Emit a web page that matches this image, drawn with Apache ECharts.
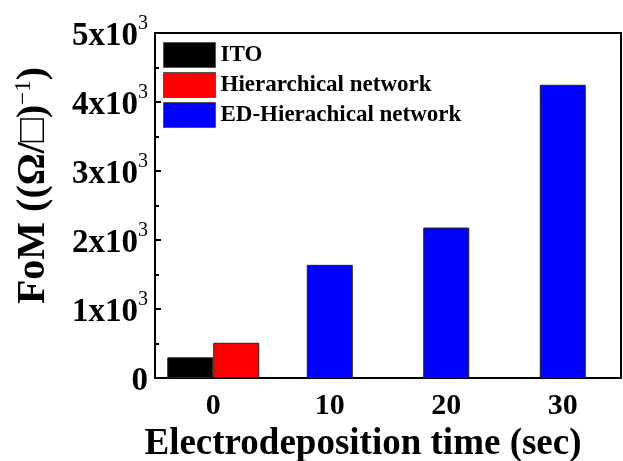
<!DOCTYPE html>
<html><head><meta charset="utf-8">
<script src="https://cdn.jsdelivr.net/npm/echarts@6/dist/echarts.min.js"></script>
<style>html,body{margin:0;padding:0;background:#fff}#c{width:623px;height:461px}</style>
</head><body><div id="c"></div>
<script>
const categories = ['0', '10', '20', '30'];
const itoValues = [300, '-', '-', '-'];
const hierValues = [510, '-', '-', '-'];
const edValues = ['-', 1640, 2180, 4250];
const seriesNames = ['ITO', 'Hierarchical network', 'ED-Hierachical network'];
const xTitle = 'Electrodeposition time (sec)';

const FONT = '"Liberation Serif", "Times New Roman", serif';
const chart = echarts.init(document.getElementById('c'));
chart.setOption({
  animation: false,
  backgroundColor: '#fff',
  grid: { left: 155, right: 2, top: 33, bottom: 83, containLabel: false, outerBoundsMode: 'none',
    show: true, borderColor: '#000', borderWidth: 2, backgroundColor: 'transparent' },
  legend: {
    orient: 'vertical', left: 163, top: 42, padding: 0, itemWidth: 52, itemHeight: 25, itemGap: 4, icon: 'rect',
    itemStyle: { borderColor: '#555', borderWidth: 1 },
    textStyle: { fontFamily: FONT, fontWeight: 'bold', fontSize: 23, color: '#000' },
    data: seriesNames
  },
  xAxis: [
    {
      type: 'category', data: categories, position: 'bottom',
      axisLine: { lineStyle: { color: '#000', width: 2 } },
      axisTick: { inside: true, alignWithLabel: true, length: 6, lineStyle: { color: '#000', width: 2 } },
      axisLabel: { fontFamily: FONT, fontWeight: 'bold', fontSize: 30, color: '#000', margin: 13 },
      name: xTitle, nameLocation: 'middle', nameGap: 46,
      nameTextStyle: { fontFamily: FONT, fontWeight: 'bold', fontSize: 37, color: '#000', padding: [0, 50, 0, 0] }
    },
    {
      type: 'category', data: categories, position: 'bottom',
      axisLine: { show: false },
      axisTick: { inside: true, length: 4, lineStyle: { color: '#000', width: 2 } },
      axisLabel: { show: false }
    }
  ],
  yAxis: {
    type: 'value', min: 0, max: 5000, interval: 1000,
    axisLine: { show: true, lineStyle: { color: '#000', width: 2 } },
    axisTick: { show: true, inside: true, length: 6, lineStyle: { color: '#000', width: 2 } },
    minorTick: { show: true, splitNumber: 2, length: 4, lineStyle: { color: '#000', width: 2 } },
    splitLine: { show: false },
    axisLabel: {
      margin: 7,
      formatter: v => v === 0 ? '{b|0}' : '{b|' + (v / 1000) + 'x10}{s|3}',
      rich: {
        b: { fontFamily: FONT, fontWeight: 'bold', fontSize: 33, color: '#000', verticalAlign: 'bottom', padding: [6, 0, 0, 0] },
        s: { fontFamily: FONT, fontSize: 20, color: '#000', verticalAlign: 'top', padding: [0, 0, 14, 0] }
      }
    },
    name: '{b|FoM ((Ω/□)}{s|−1}{b|)}',
    nameLocation: 'middle', nameGap: 100, nameRotate: 90,
    nameTextStyle: {
      padding: [0, 0, 0, 40],
      rich: {
        b: { fontFamily: FONT, fontWeight: 'bold', fontSize: 40, color: '#000' },
        s: { fontFamily: FONT, fontSize: 23, color: '#000', padding: [0, 0, 20, 0] }
      }
    }
  },
  series: [
    { name: seriesNames[0], type: 'bar', xAxisIndex: 0, data: itoValues, barWidth: 46, barGap: '0%',
      itemStyle: { color: '#000', borderColor: '#222', borderWidth: 1 } },
    { name: seriesNames[1], type: 'bar', xAxisIndex: 0, data: hierValues, barWidth: 46, barGap: '0%',
      itemStyle: { color: '#ff0000', borderColor: '#222', borderWidth: 1 } },
    { name: seriesNames[2], type: 'bar', xAxisIndex: 1, data: edValues, barWidth: 46,
      itemStyle: { color: '#0000ff', borderColor: '#222', borderWidth: 1 } }
  ]
});
</script>
</body></html>
